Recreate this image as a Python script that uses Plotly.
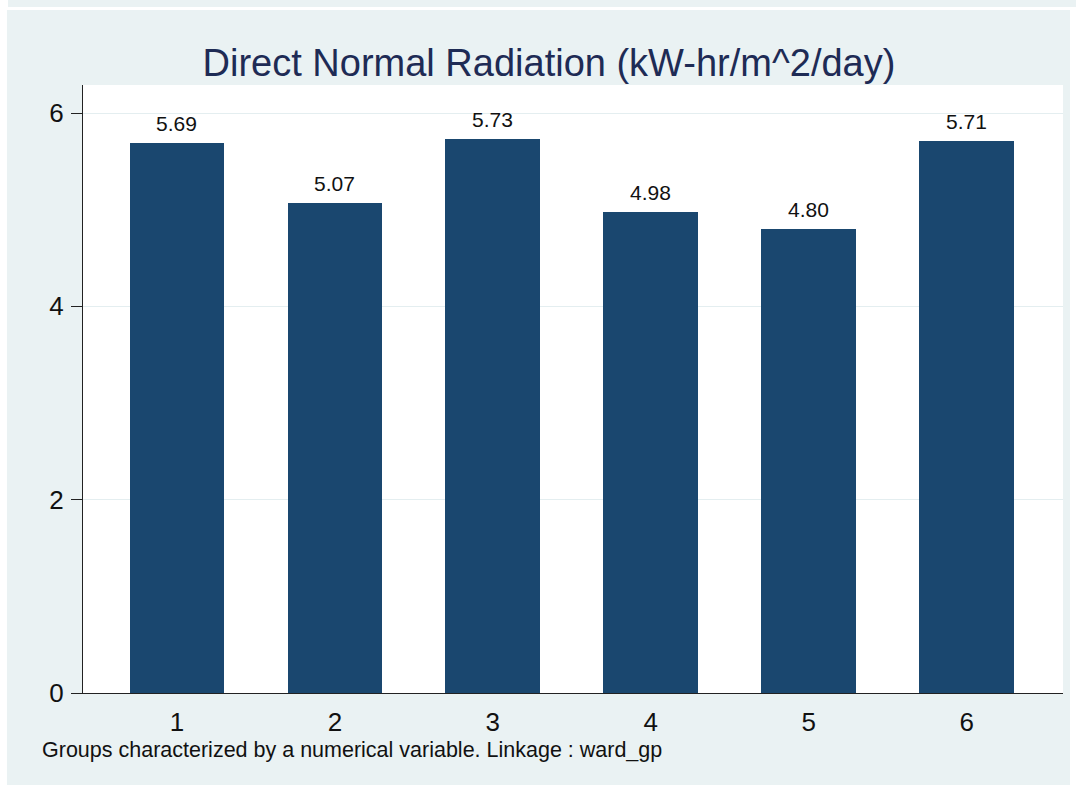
import plotly.graph_objects as go

# data
groups = [1, 2, 3, 4, 5, 6]
radiation = [5.69, 5.07, 5.73, 4.98, 4.80, 5.71]
labels = [f"{v:.2f}" for v in radiation]
y_ticks = [0, 2, 4, 6]

bar_color = '#1A476F'
panel_color = '#EAF2F3'
font_family = 'Arial, Liberation Sans, sans-serif'

fig = go.Figure()

fig.add_trace(go.Bar(x=groups, y=radiation, width=0.6,
                     marker=dict(color=bar_color, line=dict(width=0)),
                     showlegend=False, hoverinfo='x+y'))

# 數值標籤
for g, v, t in zip(groups, radiation, labels):
    fig.add_annotation(x=g, y=v, text=t, showarrow=False,
                       yanchor='bottom', yshift=6,
                       font=dict(size=21, color='#111', family=font_family))

# 註腳
fig.add_annotation(xref='paper', yref='paper', x=-0.0439, y=-0.0938,
                   xanchor='left', yanchor='middle', showarrow=False,
                   text='Groups characterized by a numerical variable. Linkage : ward_gp',
                   font=dict(size=21.5, color='#111', family=font_family))

# 背景面板
fig.add_shape(type='rect', xref='paper', yref='paper', layer='below',
              x0=-0.0776, x1=1.0071, y0=-0.1513, y1=1.1234,
              fillcolor=panel_color, line=dict(width=0))
fig.add_shape(type='rect', xref='paper', yref='paper', layer='below',
              x0=-0.0765, x1=1.0133, y0=1.1283, y1=1.1398,
              fillcolor=panel_color, line=dict(width=0))
fig.add_shape(type='rect', xref='paper', yref='paper', layer='below',
              x0=0, x1=1, y0=0, y1=1,
              fillcolor='white', line=dict(width=0))

fig.update_xaxes(range=[0.405, 6.61], tickvals=groups, ticks='',
                 ticklabelstandoff=6,
                 tickfont=dict(size=26, color='#111', family=font_family),
                 showline=True, linecolor='#222', linewidth=1,
                 showgrid=False, zeroline=False, fixedrange=True)
fig.update_yaxes(range=[0, 6.29], tickvals=y_ticks, ticks='outside',
                 ticklen=11, tickcolor='#222', tickwidth=1,
                 ticklabelstandoff=2,
                 tickfont=dict(size=26, color='#111', family=font_family),
                 showline=True, linecolor='#222', linewidth=1,
                 showgrid=True, gridcolor='#E4EEF0', gridwidth=1,
                 zeroline=False, fixedrange=True)

fig.update_layout(width=1076, height=790,
                  margin=dict(l=83, r=13, t=85, b=97),
                  paper_bgcolor='white', plot_bgcolor='white',
                  bargap=0,
                  title=dict(text='Direct Normal Radiation (kW-hr/m^2/day)',
                             x=0.4755, xref='paper', xanchor='center',
                             y=1 - 63 / 790, yref='container', yanchor='middle',
                             font=dict(size=38, color='#1E2B55', family=font_family)),
                  font=dict(family=font_family))

# 去掉頁面預設邊距
fig.write_html("out.html", config={'displayModeBar': False},
               post_script="document.body.style.margin='0';")
